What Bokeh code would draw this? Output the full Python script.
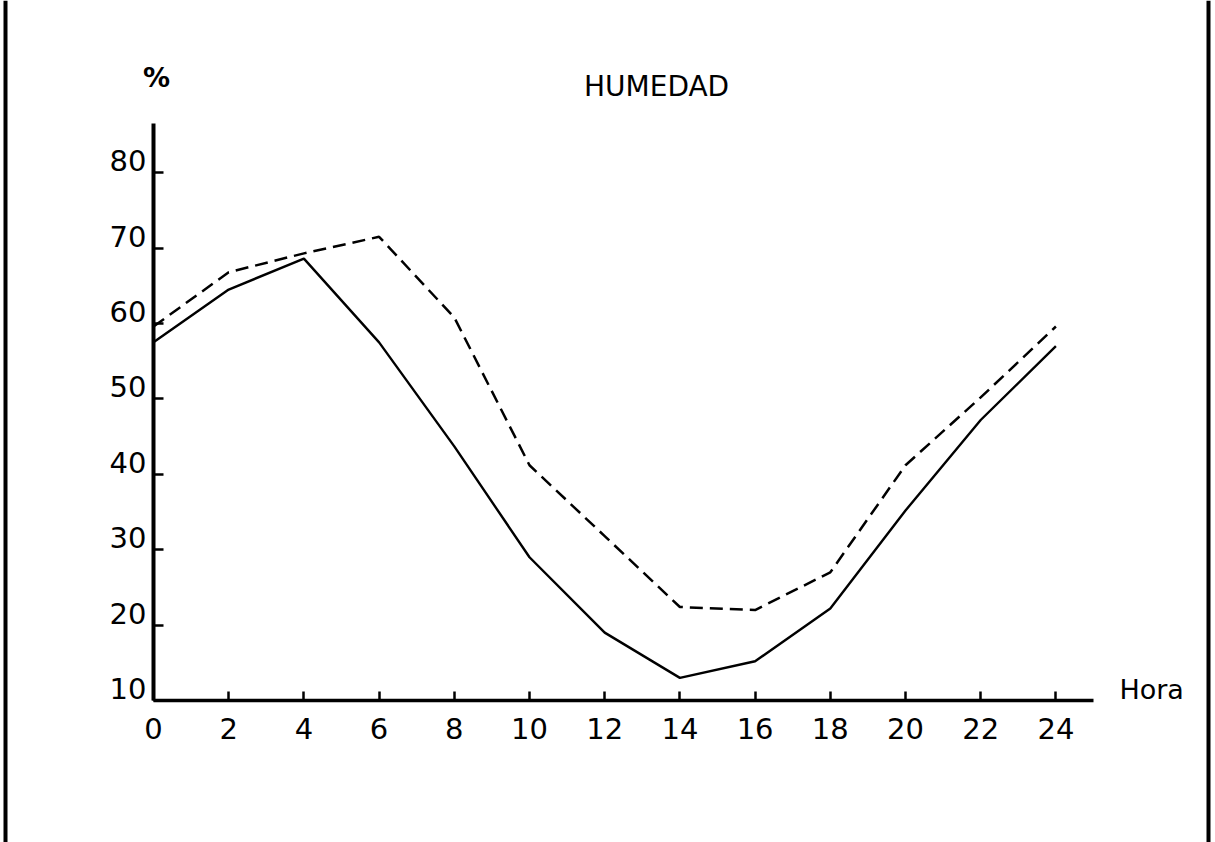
from bokeh.plotting import figure
from bokeh.models import Range1d, FixedTicker, LinearAxis, Span
from bokeh.core.properties import value
from bokeh.embed import file_html
from bokeh.resources import INLINE

# ---- data ----
hours = [0, 2, 4, 6, 8, 10, 12, 14, 16, 18, 20, 22, 24]
humedad_solida = [57.5, 64.5, 68.6, 57.5, 43.7, 29.0, 19.0, 13.0, 15.2, 22.2, 35.2, 47.2, 57.0]
humedad_trazos = [59.6, 66.8, 69.3, 71.5, 60.8, 41.2, 31.8, 22.4, 22.0, 27.0, 41.2, 50.2, 59.6]
x_ticks = [0, 2, 4, 6, 8, 10, 12, 14, 16, 18, 20, 22, 24]
y_ticks = [10, 20, 30, 40, 50, 60, 70, 80]
y_tick_labels = ["10", "20", "30", "40", "50", "60", "70", "80"]
title_text = "HUMEDAD"
y_unit = "%"
x_title = "Hora"

FONT = "DejaVu Sans"
W, H = 1215, 842
# pixel layout of the original: x=0 at 153 px, 37.6 px per hour; y=10 at 700 px, 7.54 px per unit
X0, XS, Y0, YS = 153.0, 37.6, 700.0, 7.54

p = figure(width=W, height=H,
           x_range=Range1d(-X0 / XS, (W - X0) / XS),
           y_range=Range1d(10 - (H - Y0) / YS, 10 + Y0 / YS),
           x_axis_location=None, y_axis_location=None,
           output_backend="svg", toolbar_location=None,
           min_border=0)
p.grid.visible = False
p.outline_line_color = None
p.background_fill_color = "white"
p.border_fill_color = "white"

# frame border lines of the scanned page
p.add_layout(Span(location=(5 - X0) / XS, dimension="height", line_color="black", line_width=4))
p.add_layout(Span(location=(1208 - X0) / XS, dimension="height", line_color="black", line_width=4))

# x axis, fixed at y = 10
xa = LinearAxis(fixed_location=10, bounds=(0, 25), ticker=FixedTicker(ticks=x_ticks))
xa.minor_tick_line_color = None
xa.major_tick_in = 9
xa.major_tick_out = 0
xa.major_tick_line_width = 2.5
xa.axis_line_width = 3.5
xa.major_label_standoff = 17
xa.major_label_text_font = FONT
xa.major_label_text_font_size = "29px"
xa.major_label_text_color = "black"
p.add_layout(xa, "below")

# y axis, fixed at x = 0 (its numbers are written just above the ticks, as in the original)
ya = LinearAxis(fixed_location=0, bounds=(10, 86.5), ticker=FixedTicker(ticks=y_ticks))
ya.minor_tick_line_color = None
ya.major_tick_in = 10
ya.major_tick_out = 0
ya.major_tick_line_width = 2.5
ya.axis_line_width = 4
ya.major_label_text_color = None
p.add_layout(ya, "left")

p.text(x=[0] * len(y_ticks), y=y_ticks, text=y_tick_labels, x_offset=-7, y_offset=-12,
       text_align="right", text_baseline="middle",
       text_font=value(FONT), text_font_size="29px", text_color="black")

# lines
p.line(hours, humedad_solida, line_color="black", line_width=2.4)
p.line(hours, humedad_trazos, line_color="black", line_width=2.5, line_dash="13 7")

# texts
p.text(x=[0.08], y=[92.6], text=[y_unit], text_align="center", text_baseline="middle",
       text_font=value(FONT), text_font_size="27px", text_font_style="bold", text_color="black")
p.text(x=[13.38], y=[91.4], text=[title_text], text_align="center", text_baseline="middle",
       text_font=value(FONT), text_font_size="28px", text_color="black")
p.text(x=[25.69], y=[11.5], text=[x_title], text_align="left", text_baseline="middle",
       text_font=value(FONT), text_font_size="27px", text_color="black")

open("out.html", "w").write(file_html(p, INLINE))
